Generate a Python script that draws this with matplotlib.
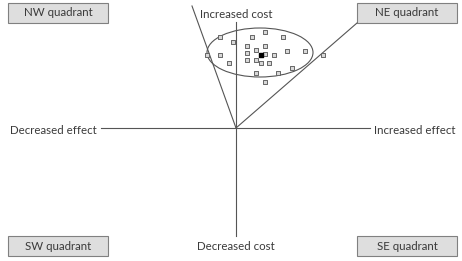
import matplotlib
matplotlib.use("Agg")
import matplotlib.pyplot as plt
from matplotlib.patches import Ellipse, Rectangle

# bootstrap replicates of incremental effect / cost (arbitrary units, origin = centre)
effect = [-16, -3, 29, 47, 16, 11, 29, -29, -16, 11, 20, 29, 38, 51, 69, 87,
          11, 20, 25, 33, -7, 20, 42, 56, 29]
cost = [91, 86, 96, 91, 91, 82, 82, 73, 73, 75, 78, 74, 73, 77, 77, 73,
        68, 68, 65, 65, 65, 55, 55, 60, 46]
mean_effect = [25]
mean_cost = [73]

quadrants = ["NW quadrant", "NE quadrant", "SW quadrant", "SE quadrant"]

plt.rcParams['font.family'] = ['Lato', 'DejaVu Sans']
fig = plt.figure(figsize=(4.62, 2.61), dpi=100)
ax = fig.add_axes([0, 0, 1, 1])
ax.set_xlim(-236, 226)
ax.set_ylim(-133, 128)
ax.axis("off")

ink = "#555555"
txt = "#3a3a3a"
fs = 8.3

# axes of the plane
ax.plot([-135, 134], [0, 0], color=ink, lw=0.8)
ax.plot([0, 0], [-108, 106], color=ink, lw=0.8)

# confidence wedge lines
ax.plot([0, -44], [0, 122], color=ink, lw=0.8)
ax.plot([0, 121], [0, 105], color=ink, lw=0.8)

# ellipse round the cloud
ax.add_patch(Ellipse((24, 75.5), 106, 49, fill=False, ec=ink, lw=0.8))

ax.scatter(effect, cost, marker="s", s=12, facecolor="#d8d8d8",
           edgecolor="#666666", linewidth=0.7, zorder=3)
ax.scatter(mean_effect, mean_cost, marker="s", s=12, color="black", zorder=4)

ax.text(0, 114, "Increased cost", ha="center", va="center", fontsize=fs, color=txt)
ax.text(0, -118, "Decreased cost", ha="center", va="center", fontsize=fs, color=txt)
ax.text(-139, -2, "Decreased effect", ha="right", va="center", fontsize=fs, color=txt)
ax.text(138, -2, "Increased effect", ha="left", va="center", fontsize=fs, color=txt)

boxes = [(-228, 105), (121, 105), (-228, -128), (121, -128)]
for (bx, by), name in zip(boxes, quadrants):
    ax.add_patch(Rectangle((bx, by), 100, 20, facecolor="#dedede",
                           edgecolor="#808080", lw=0.8))
    ax.text(bx + 50, by + 10, name, ha="center", va="center", fontsize=fs, color=txt)

fig.savefig("out.png", dpi=100)
